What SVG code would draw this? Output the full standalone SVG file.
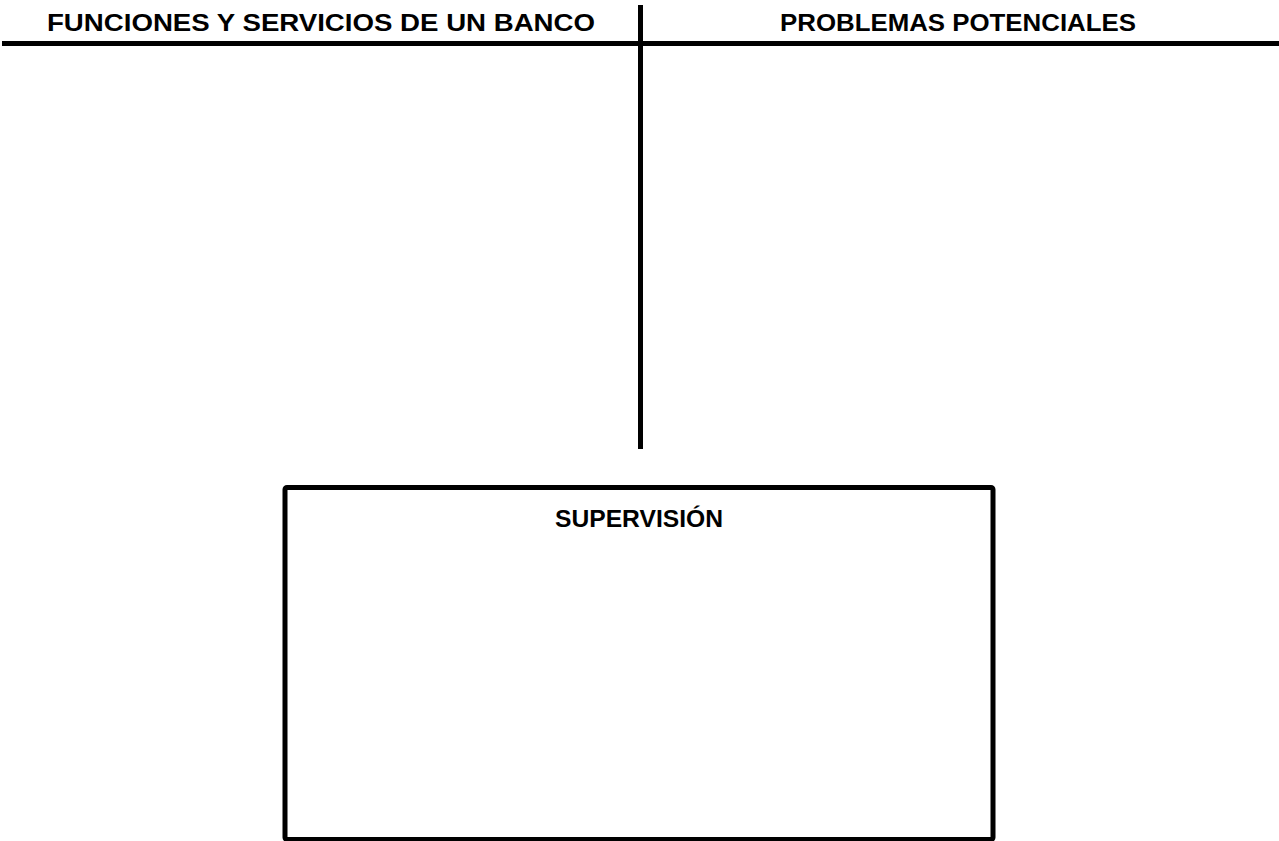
<svg xmlns="http://www.w3.org/2000/svg" width="1279" height="841" viewBox="0 0 1279 841">
<style>
.t{font-family:"Liberation Sans",Arial,sans-serif;font-weight:bold;font-size:23.5px;fill:#000;text-anchor:middle}
.ln{stroke:#000;stroke-width:5;fill:none}
</style>
<rect width="1279" height="841" fill="#fff"/>
<g id="connectors">
<line class="ln" x1="2" y1="43.5" x2="1279" y2="43.5"/>
<line class="ln" x1="640.5" y1="5" x2="640.5" y2="449"/>
</g>
<g id="col-left">
<text class="t" x="321" y="31" textLength="548" lengthAdjust="spacingAndGlyphs">FUNCIONES Y SERVICIOS DE UN BANCO</text>
</g>
<g id="col-right">
<text class="t" x="958" y="31" textLength="356" lengthAdjust="spacingAndGlyphs">PROBLEMAS POTENCIALES</text>
</g>
<g id="supervision">
<rect class="ln" x="285" y="487.5" width="708" height="352" rx="2"/>
<text class="t" x="639" y="527" textLength="168" lengthAdjust="spacingAndGlyphs">SUPERVISIÓN</text>
</g>
</svg>
